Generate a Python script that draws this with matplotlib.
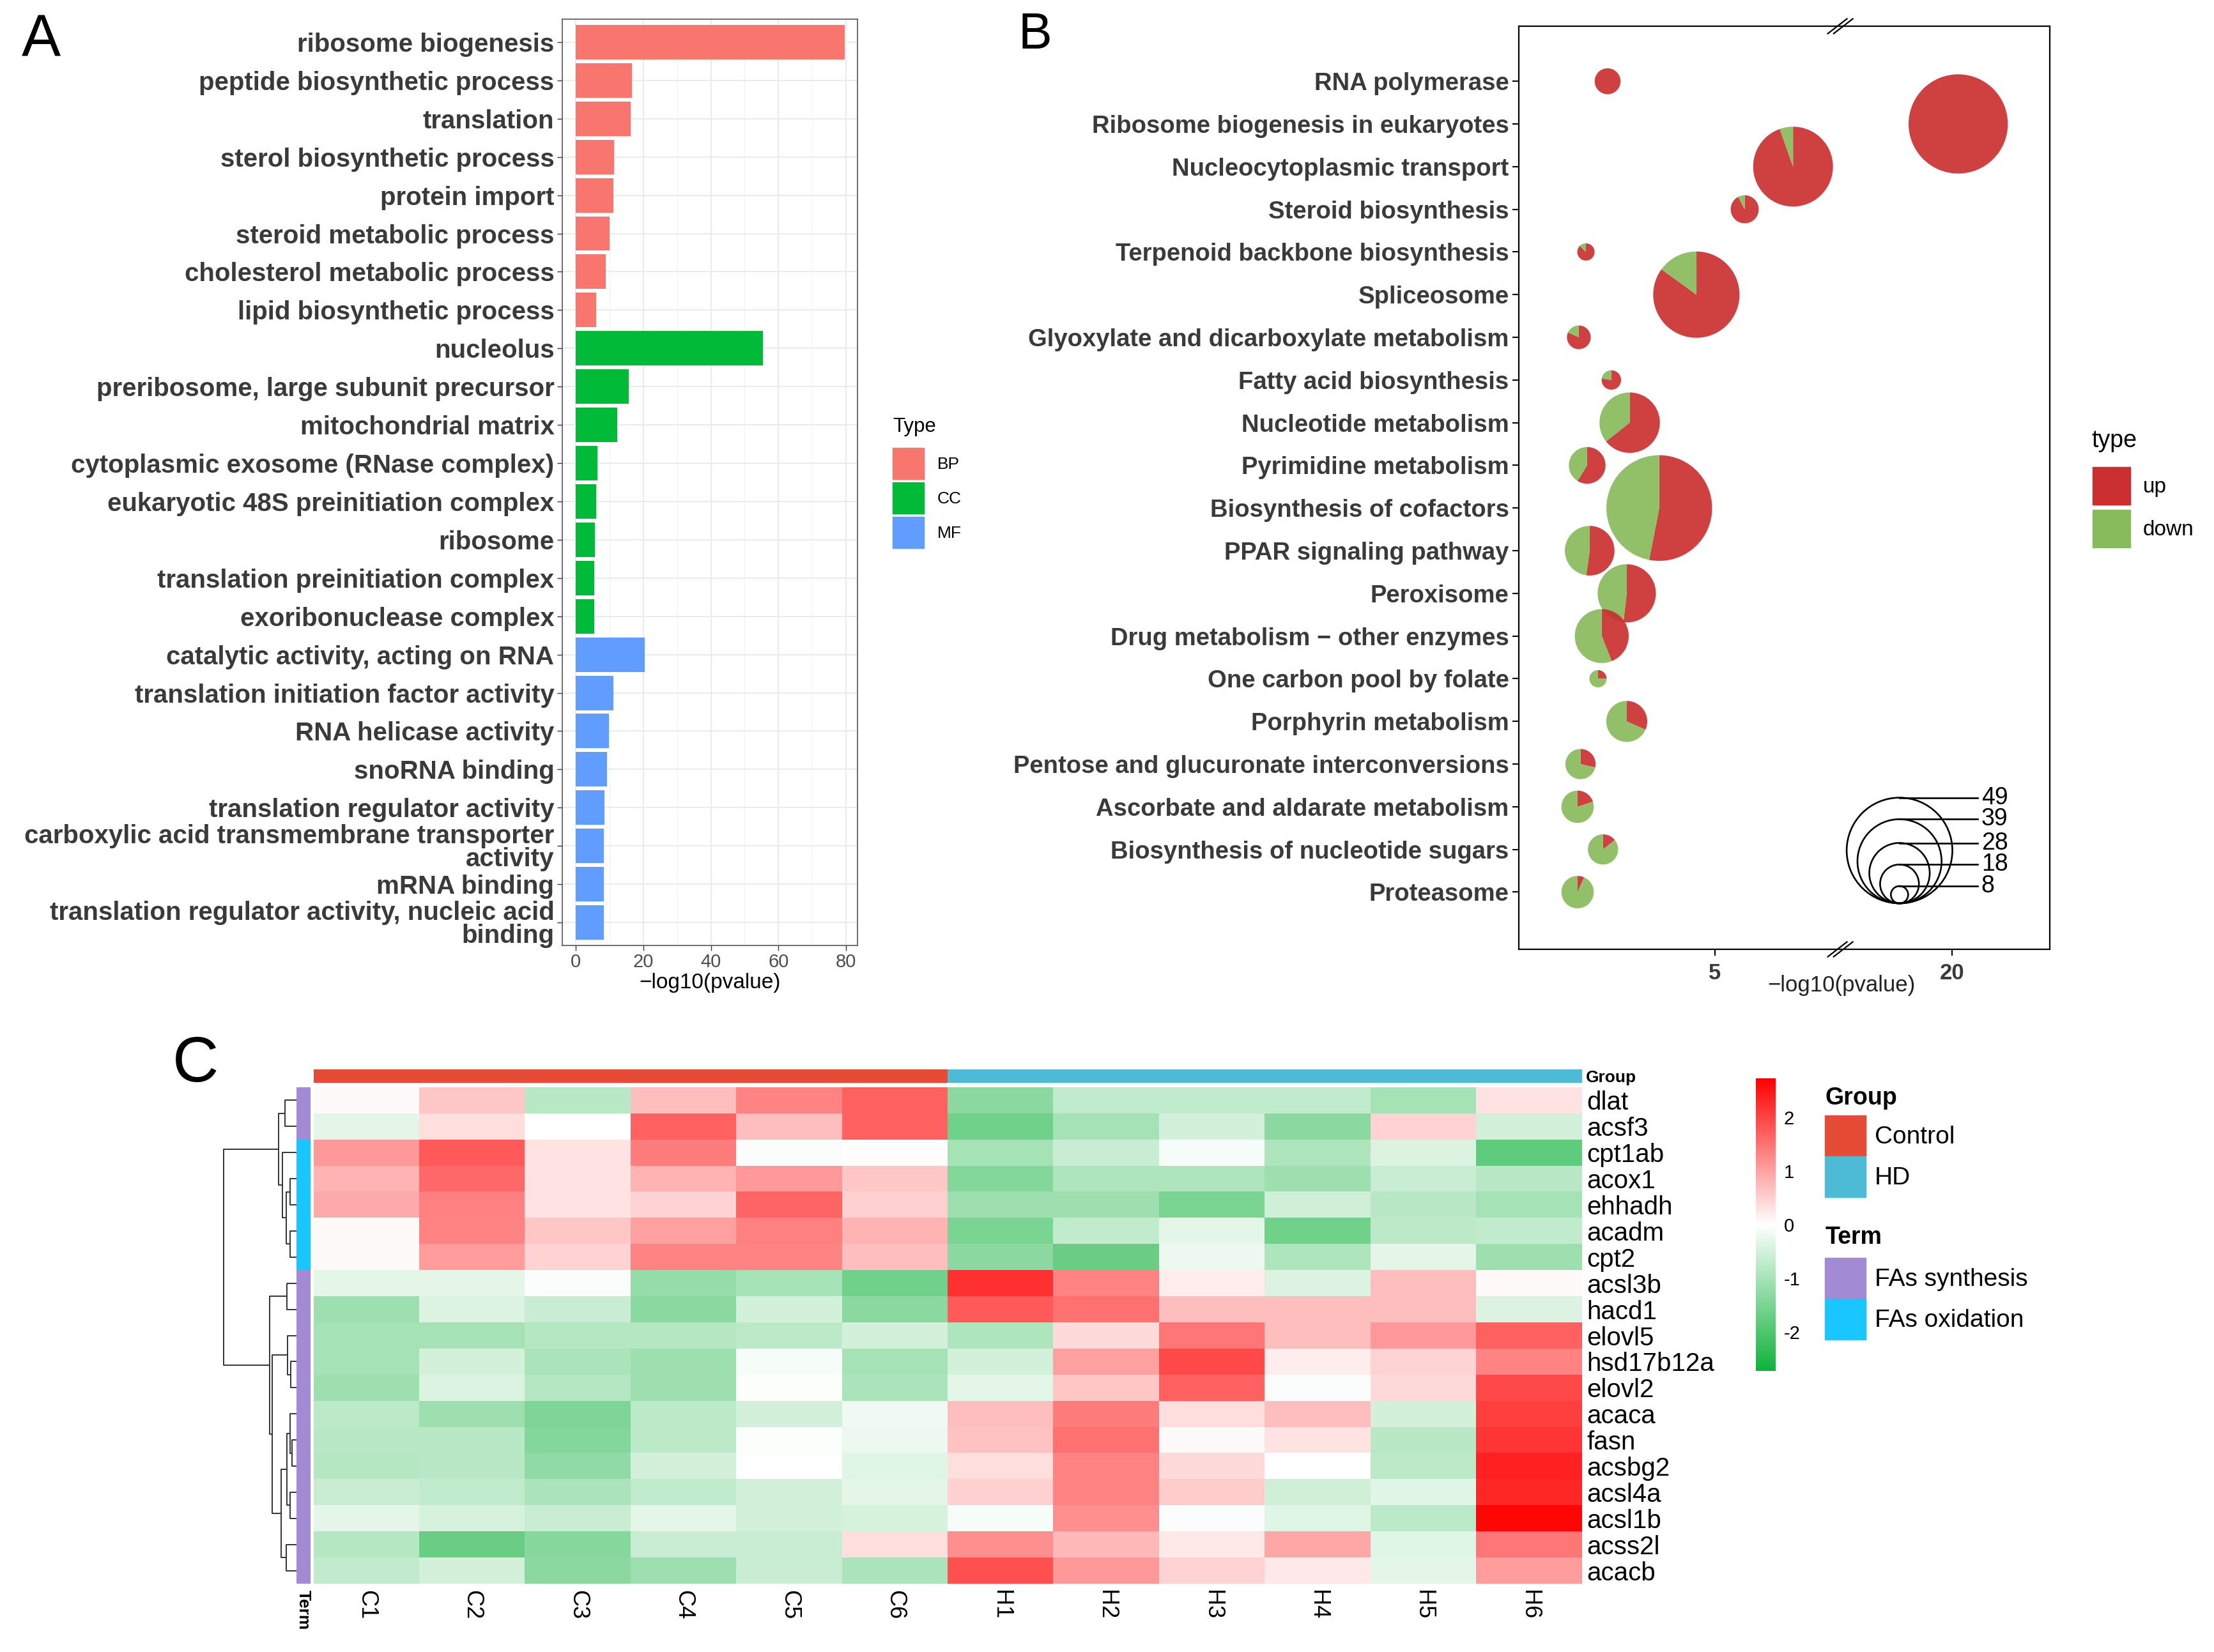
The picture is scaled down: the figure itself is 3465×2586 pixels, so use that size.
import numpy as np
import matplotlib
matplotlib.use('Agg')
import matplotlib.pyplot as plt
import matplotlib.transforms as mtransforms
from matplotlib.patches import Wedge, Circle, Patch
from matplotlib.colors import LinearSegmentedColormap, ListedColormap
from matplotlib.cm import ScalarMappable
from matplotlib.colors import Normalize

plt.rcParams['font.family'] = ['Liberation Sans', 'DejaVu Sans']
plt.rcParams['axes.unicode_minus'] = False

W, H = 3466, 2586
DPI = 100

# ---------------- panel A : GO enrichment ----------------
go_terms = ['ribosome biogenesis', 'peptide biosynthetic process', 'translation',
            'sterol biosynthetic process', 'protein import', 'steroid metabolic process',
            'cholesterol metabolic process', 'lipid biosynthetic process',
            'nucleolus', 'preribosome, large subunit precursor', 'mitochondrial matrix',
            'cytoplasmic exosome (RNase complex)', 'eukaryotic 48S preinitiation complex',
            'ribosome', 'translation preinitiation complex', 'exoribonuclease complex',
            'catalytic activity, acting on RNA', 'translation initiation factor activity',
            'RNA helicase activity', 'snoRNA binding', 'translation regulator activity',
            'carboxylic acid transmembrane transporter\nactivity', 'mRNA binding',
            'translation regulator activity, nucleic acid\nbinding']
go_type = ['BP'] * 8 + ['CC'] * 8 + ['MF'] * 8
go_value = [79.7, 16.7, 16.2, 11.3, 11.1, 10.1, 8.9, 6.1,
            55.4, 15.7, 12.3, 6.4, 6.1, 5.6, 5.4, 5.4,
            20.5, 11.1, 9.8, 9.3, 8.6, 8.4, 8.4, 8.4]
type_colors = {'BP': '#F8766D', 'CC': '#00BA38', 'MF': '#619CFF'}

# ---------------- panel B : KEGG pies ----------------
kegg_terms = ['RNA polymerase', 'Ribosome biogenesis in eukaryotes', 'Nucleocytoplasmic transport',
              'Steroid biosynthesis', 'Terpenoid backbone biosynthesis', 'Spliceosome',
              'Glyoxylate and dicarboxylate metabolism', 'Fatty acid biosynthesis',
              'Nucleotide metabolism', 'Pyrimidine metabolism', 'Biosynthesis of cofactors',
              'PPAR signaling pathway', 'Peroxisome', 'Drug metabolism \u2212 other enzymes',
              'One carbon pool by folate', 'Porphyrin metabolism',
              'Pentose and glucuronate interconversions', 'Ascorbate and aldarate metabolism',
              'Biosynthesis of nucleotide sugars', 'Proteasome']
kegg_logp = [2.43, 20.11, 6.88, 5.72, 1.91, 4.56, 1.74, 2.52, 2.96, 1.94,
             3.67, 2.00, 2.89, 2.29, 2.20, 2.89, 1.78, 1.71, 2.32, 1.71]
kegg_up = [12, 46, 35, 12, 7, 34, 9, 7, 18, 10, 26, 12, 14, 11, 2, 6, 4, 3, 2, 1]
kegg_down = [0, 0, 2, 1, 1, 6, 2, 2, 10, 7, 23, 11, 13, 14, 6, 13, 10, 12, 12, 14]
size_breaks = [49, 39, 28, 18, 8]
up_color, down_color = '#CB2F2F', '#88BB5C'

# ---------------- panel C : heatmap ----------------
genes = ['dlat', 'acsf3', 'cpt1ab', 'acox1', 'ehhadh', 'acadm', 'cpt2', 'acsl3b', 'hacd1',
         'elovl5', 'hsd17b12a', 'elovl2', 'acaca', 'fasn', 'acsbg2', 'acsl4a', 'acsl1b',
         'acss2l', 'acacb']
samples = ['C1', 'C2', 'C3', 'C4', 'C5', 'C6', 'H1', 'H2', 'H3', 'H4', 'H5', 'H6']
sample_group = [0] * 6 + [1] * 6            # 0 Control, 1 HD
gene_term = [0, 0, 1, 1, 1, 1, 1] + [0] * 12  # 0 FAs synthesis, 1 FAs oxidation
expr = np.array([
    [0.05, 0.6, -0.8, 0.7, 1.3, 1.7, -1.3, -0.7, -0.7, -0.7, -1.0, 0.3],
    [-0.3, 0.35, 0.0, 1.7, 0.7, 1.7, -1.6, -1.0, -0.5, -1.3, 0.45, -0.5],
    [1.1, 1.75, 0.3, 1.4, -0.05, 0.03, -1.0, -0.6, -0.1, -0.9, -0.4, -1.8],
    [0.8, 1.6, 0.3, 0.8, 1.1, 0.6, -1.4, -0.9, -0.9, -1.1, -0.6, -0.8],
    [0.9, 1.35, 0.3, 0.45, 1.65, 0.5, -1.1, -1.1, -1.5, -0.55, -0.8, -1.0],
    [0.05, 1.3, 0.6, 1.0, 1.35, 0.8, -1.5, -0.7, -0.3, -1.6, -0.75, -0.7],
    [0.05, 1.05, 0.45, 1.3, 1.3, 0.7, -1.3, -1.7, -0.2, -0.9, -0.3, -1.1],
    [-0.3, -0.3, -0.05, -1.2, -1.0, -1.6, 2.2, 1.3, 0.2, -0.4, 0.7, 0.05],
    [-1.1, -0.4, -0.6, -1.3, -0.5, -1.3, 1.75, 1.5, 0.7, 0.7, 0.7, -0.4],
    [-1.0, -1.0, -0.85, -0.85, -0.75, -0.5, -0.9, 0.4, 1.45, 0.7, 1.1, 1.7],
    [-1.0, -0.5, -0.95, -1.1, -0.1, -1.0, -0.5, 1.0, 1.95, 0.2, 0.45, 1.3],
    [-1.1, -0.4, -0.85, -1.1, -0.03, -0.95, -0.3, 0.6, 1.7, -0.05, 0.4, 1.95],
    [-0.75, -1.1, -1.45, -0.75, -0.5, -0.15, 0.7, 1.4, 0.35, 0.7, -0.5, 2.05],
    [-0.8, -0.8, -1.4, -0.75, -0.03, -0.2, 0.65, 1.5, 0.05, 0.3, -0.8, 2.15],
    [-0.85, -0.8, -1.25, -0.5, -0.02, -0.35, 0.35, 1.3, 0.4, 0.02, -0.75, 2.35],
    [-0.6, -0.7, -0.95, -0.7, -0.5, -0.3, 0.5, 1.3, 0.55, -0.55, -0.35, 2.3],
    [-0.3, -0.45, -0.6, -0.3, -0.5, -0.45, -0.1, 1.2, -0.05, -0.35, -0.75, 2.65],
    [-0.85, -1.7, -1.35, -0.6, -0.6, 0.35, 1.2, 0.75, 0.25, 0.95, -0.35, 1.45],
    [-0.7, -0.5, -1.3, -1.1, -0.6, -0.95, 1.85, 1.1, 0.45, 0.25, -0.3, 1.05],
])
# row dendrogram: (left, right, height), new clusters numbered from 19
dendro_merges = [(0, 1, 52), (3, 4, 28), (5, 6, 28), (20, 21, 45), (2, 22, 63), (19, 23, 82),
                 (7, 8, 42), (10, 11, 25), (9, 26, 40), (13, 14, 17), (12, 28, 27),
                 (15, 16, 28), (29, 30, 43), (17, 18, 45), (31, 32, 68), (27, 33, 110),
                 (25, 34, 122), (24, 35, 340)]

fig = plt.figure(figsize=(W / DPI, H / DPI), dpi=DPI)


def px_axes(l, t, r, b):
    return fig.add_axes([l / W, 1 - b / H, (r - l) / W, (b - t) / H])


def key_height(box_px, fs):
    # legend handleheight giving a key box of box_px pixels at font size fs (pt)
    return (box_px * 72 / DPI / fs - 0.245) / 0.65


def key_legend(colors, labels, left, top, key_px, gap_px, fs, textpad):
    # legend without title; its top is the top of the first key
    fig.legend([Patch(color=c) for c in colors], labels, loc='upper left',
               bbox_to_anchor=(left / W, 1 - top / H), frameon=False, fontsize=fs,
               handlelength=key_px * 72 / DPI / fs, handleheight=key_height(key_px, fs),
               labelspacing=gap_px * 72 / DPI / fs, handletextpad=textpad,
               borderpad=0, borderaxespad=0)


# ======== A ========
axA = px_axes(880, 30, 1342, 1480)
ypos = np.arange(len(go_terms))
axA.barh(ypos, go_value, height=0.9, color=[type_colors[t] for t in go_type], zorder=2)
axA.set_ylim(len(go_terms) - 0.4, -0.6)
axA.set_xlim(-3.97, 83.4)
axA.set_xticks([0, 20, 40, 60, 80])
axA.set_xticks([10, 30, 50, 70], minor=True)
axA.grid(which='major', color='#EBEBEB', lw=1.5, zorder=0)
axA.grid(which='minor', axis='x', color='#F3F3F3', lw=0.8, zorder=0)
axA.set_axisbelow(True)
axA.set_yticks(ypos)
axA.set_yticklabels(go_terms, fontsize=29, fontweight='bold', color='#3A3A3A')
for lab in axA.get_yticklabels():
    lab.set_linespacing(0.92)
axA.tick_params(axis='y', which='major', length=6, width=1, color='#333333', pad=3)
axA.tick_params(axis='x', which='major', length=6, width=1, color='#333333', pad=3,
                labelsize=21, labelcolor='#4D4D4D')
axA.tick_params(axis='x', which='minor', length=0)
for s in axA.spines.values():
    s.set_color('#555555')
    s.set_linewidth(1.2)
axA.set_xlabel('\u2212log10(pvalue)', fontsize=24, labelpad=2)

fig.text(1397 / W, 1 - 676 / H, 'Type', fontsize=22.5, va='baseline', ha='left')
key_legend([type_colors[k] for k in ['BP', 'CC', 'MF']], ['BP', 'CC', 'MF'],
           1397, 701, 49, 5, 19, 0.8)

# ======== B ========
axB = px_axes(2377, 41, 3208, 1486)
seg_x = [0, 8, 18, 30]
seg_u = [0, 8 * 65.3, 8 * 65.3 + 1, 8 * 65.3 + 1 + 12 * 87.5]
axB.set_xscale('function', functions=(lambda v: np.interp(v, seg_x, seg_u),
                                      lambda u: np.interp(u, seg_u, seg_x)))
axB.set_xlim(0.30, 21.75)
n_k = len(kegg_terms)
kegg_y = np.arange(n_k, 0, -1)
axB.set_ylim(-0.34, n_k + 1.29)

r_scale = 0.01688  # inches of radius per gene
for x, y, u, d in zip(kegg_logp, kegg_y, kegg_up, kegg_down):
    n = u + d
    fu = u / n
    tr = (mtransforms.Affine2D().scale(n * r_scale) + fig.dpi_scale_trans
          + mtransforms.ScaledTranslation(x, y, axB.transData))
    if u > 0:
        axB.add_patch(Wedge((0, 0), 1, 90 - 360 * fu, 90, transform=tr,
                            facecolor=up_color, edgecolor='none', alpha=0.92))
    if d > 0:
        axB.add_patch(Wedge((0, 0), 1, 90, 450 - 360 * fu, transform=tr,
                            facecolor=down_color, edgecolor='none', alpha=0.92))

# size legend
anchor = mtransforms.ScaledTranslation(0.717, 0.0498, axB.transAxes)
for b in size_breaks:
    r = b * r_scale
    axB.add_patch(Circle((0, r), r, transform=fig.dpi_scale_trans + anchor,
                         facecolor='none', edgecolor='black', lw=1.9, clip_on=False))
    axB.plot([0, 1.22], [2 * r, 2 * r], color='black', lw=1.9,
             transform=fig.dpi_scale_trans + anchor, clip_on=False)
    axB.text(1.28, 2 * r, str(b), fontsize=27, va='center', ha='left',
             transform=fig.dpi_scale_trans + anchor)

axB.set_yticks(kegg_y)
axB.set_yticklabels(kegg_terms, fontsize=27.5, fontweight='bold', color='#3A3A3A')
axB.set_xticks([5, 20])
axB.set_xticklabels(['5', '20'], fontsize=25, fontweight='bold', color='#3A3A3A')
axB.xaxis.set_minor_locator(matplotlib.ticker.NullLocator())
axB.tick_params(axis='both', length=7, width=1.5, color='black')
axB.tick_params(axis='y', pad=4)
axB.tick_params(axis='x', pad=8)
for s in axB.spines.values():
    s.set_color('black')
    s.set_linewidth(1.6)
axB.text(0.608, -0.0388, '\u2212log10(pvalue)', transform=axB.transAxes, fontsize=25,
         ha='center', va='center', color='#222222')
xb = 0.6055
for yb in (0.0, 1.0):
    for off in (-0.0055, 0.0055):
        axB.plot([xb - 0.018 + off, xb + 0.018 + off], [yb - 0.008, yb + 0.008],
                 color='black', lw=1.6, transform=axB.transAxes, clip_on=False)

fig.text(3273 / W, 1 - 700 / H, 'type', fontsize=27, va='baseline', ha='left')
key_legend([up_color, down_color], ['up', 'down'], 3275, 731, 59, 8, 24, 0.6)

# ======== C ========
heat_cmap = LinearSegmentedColormap.from_list('gwr', ['#0FB23B', '#FFFFFF', '#FF0000'])
vlim = 2.72
axH = px_axes(491, 1702, 2476, 2479)
axH.imshow(expr, cmap=heat_cmap, vmin=-vlim, vmax=vlim, aspect='auto', interpolation='nearest')
axH.set_xticks(range(len(samples)))
axH.set_xticklabels(samples, rotation=270, fontsize=26, va='top', ha='center')
axH.yaxis.tick_right()
axH.set_yticks(range(len(genes)))
axH.set_yticklabels(genes, fontsize=29)
axH.tick_params(length=0)
axH.tick_params(axis='y', pad=5)
axH.tick_params(axis='x', pad=7)
for s in axH.spines.values():
    s.set_visible(False)

group_colors = ['#E64B35', '#4DBBD5']
term_colors = ['#A38AD5', '#1AC6FF']
axG = px_axes(491, 1674, 2476, 1695)
axG.imshow([sample_group], cmap=ListedColormap(group_colors), vmin=0, vmax=1,
           aspect='auto', interpolation='nearest')
axG.set_xticks([])
axG.yaxis.tick_right()
axG.set_yticks([0])
axG.set_yticklabels(['Group'], fontsize=19, fontweight='bold')
axG.tick_params(length=0, pad=4)
for s in axG.spines.values():
    s.set_visible(False)

axT = px_axes(464, 1702, 486, 2479)
axT.imshow(np.array(gene_term)[:, None], cmap=ListedColormap(term_colors), vmin=0, vmax=1,
           aspect='auto', interpolation='nearest')
axT.set_yticks([])
axT.set_xticks([0])
axT.set_xticklabels(['Term'], rotation=270, fontsize=19, fontweight='bold', va='top')
axT.tick_params(length=0, pad=7)
for s in axT.spines.values():
    s.set_visible(False)

# dendrogram
axD = px_axes(350, 1702, 463, 2479)
pos = {i: float(i) for i in range(len(genes))}
hgt = {i: 0.0 for i in range(len(genes))}
for k, (a, b, h) in enumerate(dendro_merges):
    axD.plot([hgt[a], h, h, hgt[b]], [pos[a], pos[a], pos[b], pos[b]],
             color='#333333', lw=1.4, clip_on=False)
    pos[len(genes) + k] = (pos[a] + pos[b]) / 2
    hgt[len(genes) + k] = h
axD.set_xlim(340, 0)
axD.set_ylim(len(genes) - 0.5, -0.5)
axD.axis('off')

cax = px_axes(2748, 1688, 2779, 2146)
cb = fig.colorbar(ScalarMappable(norm=Normalize(-vlim, vlim), cmap=heat_cmap), cax=cax,
                  ticks=[-2, -1, 0, 1, 2])
cb.outline.set_visible(False)
cax.tick_params(length=0, labelsize=21, pad=9)

for title, labs, cols, base, top in [('Group', ['Control', 'HD'], group_colors, 1729, 1746),
                                     ('Term', ['FAs synthesis', 'FAs oxidation'], term_colors,
                                      1947, 1969)]:
    fig.text(2857 / W, 1 - base / H, title, fontsize=27, fontweight='bold',
             va='baseline', ha='left')
    key_legend(cols, labs, 2856, top, 64, 0, 28, 0.36)

# panel letters
fig.text(34 / W, 1 - 22 / H, 'A', fontsize=66, va='top', ha='left')
fig.text(1594 / W, 1 - 18 / H, 'B', fontsize=57, va='top', ha='left')
fig.text(270 / W, 1 - 1620 / H, 'C', fontsize=72, va='top', ha='left')

fig.savefig('out.png', dpi=DPI, facecolor='white')
